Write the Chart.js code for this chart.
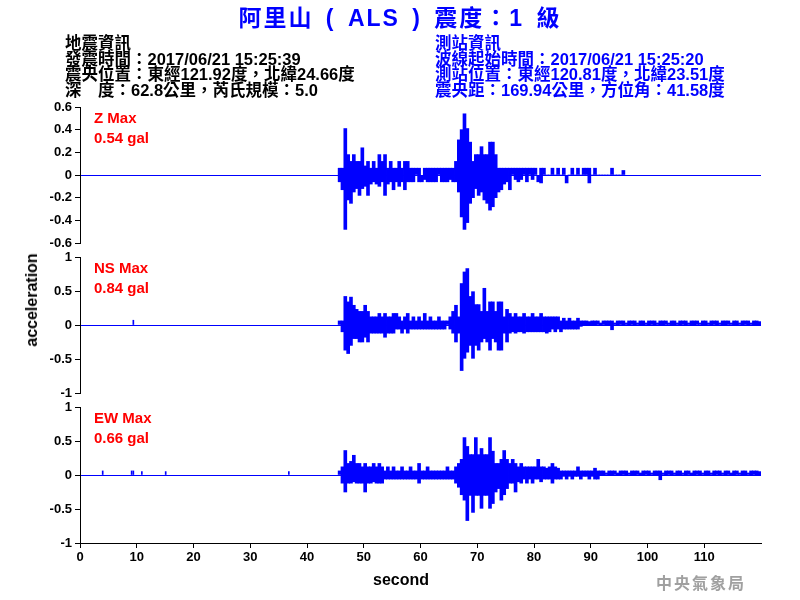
<!DOCTYPE html>
<html>
<head>
<meta charset="utf-8">
<script src="https://cdn.jsdelivr.net/npm/chart.js@4.4.1/dist/chart.umd.min.js"></script>
<style>
  body { margin: 0; background: #fff; }
  #wrap { position: relative; width: 800px; height: 600px; background: #fff; overflow: hidden; }
  canvas { position: absolute; left: 0; top: 0; }
  .txt { position: absolute; white-space: nowrap; font-family: "Liberation Sans", Arial, "Noto Sans CJK TC", sans-serif; font-weight: bold; }
  #title { left: 0; width: 800px; top: 5px; text-align: center; font-size: 23px; line-height: 26px; color: #0000ff; letter-spacing: 2px; word-spacing: 4px; }
  .info { top: 36px; font-size: 16.5px; line-height: 15.7px; }
  #infoL { left: 65px; color: #000; }
  #infoR { left: 435px; color: #0000ff; }
  .mx { left: 94px; font-size: 15px; line-height: 20px; color: #ff0000; }
  #ylab { left: 32px; top: 300px; font-size: 16px; transform: translate(-50%, -50%) rotate(-90deg); color: #000; }
  #xlab { left: 401px; top: 580px; font-size: 16px; transform: translate(-50%, -50%); color: #000; }
  #mark { left: 656px; top: 572px; font-size: 16px; line-height: 20px; color: #a0a0a0; letter-spacing: 2px; font-family: "Noto Sans CJK TC", sans-serif; }
</style>
</head>
<body>
<div id="wrap">
  <canvas id="c1" width="800" height="600"></canvas>
  <canvas id="c2" width="800" height="600"></canvas>
  <canvas id="c3" width="800" height="600"></canvas>
  <div class="txt" id="title">阿里山 ( ALS ) 震度：1 級</div>
  <div class="txt info" id="infoL">地震資訊<br>發震時間：2017/06/21 15:25:39<br>震央位置：東經121.92度，北緯24.66度<br>深　度：62.8公里，芮氏規模：5.0</div>
  <div class="txt info" id="infoR">測站資訊<br>波線起始時間：2017/06/21 15:25:20<br>測站位置：東經120.81度，北緯23.51度<br>震央距：169.94公里，方位角：41.58度</div>
  <div class="txt mx" style="top:108px">Z Max<br>0.54 gal</div>
  <div class="txt mx" style="top:258px">NS Max<br>0.84 gal</div>
  <div class="txt mx" style="top:408px">EW Max<br>0.66 gal</div>
  <div class="txt" id="ylab">acceleration</div>
  <div class="txt" id="xlab">second</div>
  <div class="txt" id="mark">中央氣象局</div>
</div>
<script>
// waveform as [min, max] per half-second bin, starting at 45.5 s
const binStart = 45.5;
const binWidth = 0.5;

const zBins = [
  [-0.06,0.06],[-0.13,0.06],[-0.48,0.41],[-0.22,0.18],[-0.25,0.12],[-0.15,0.18],[-0.12,0.12],[-0.18,0.12],[-0.12,0.24],[-0.1,0.08],
  [-0.18,0.12],[-0.08,0.06],[-0.06,0.12],[-0.08,0.06],[-0.1,0.18],[-0.06,0.12],[-0.18,0.18],[-0.08,0.06],[-0.06,0.12],[-0.13,0.06],
  [-0.06,0.06],[-0.1,0.12],[-0.06,0.06],[-0.13,0.12],[-0.06,0.12],[-0.06,0.06],[-0.06,0.06],[0,0.06],[-0.06,0.06],[-0.06,0],
  [-0.04,0.06],[-0.06,0.06],[-0.06,0.06],[-0.06,0.06],[-0.06,0.06],[0,0.06],[-0.06,0.06],[-0.06,0.06],[-0.06,0.06],[-0.04,0.06],
  [-0.06,0.06],[-0.06,0.12],[-0.15,0.31],[-0.37,0.4],[-0.48,0.54],[-0.42,0.41],[-0.25,0.29],[-0.2,0.12],[-0.12,0.18],[-0.18,0.18],
  [-0.15,0.25],[-0.22,0.18],[-0.25,0.18],[-0.31,0.29],[-0.28,0.29],[-0.2,0.18],[-0.15,0.06],[-0.13,0.06],[-0.08,0.06],[-0.06,0.06],
  [-0.13,0.06],[0,0.06],[-0.04,0.06],[-0.06,0.06],[-0.04,0.06],[0,0.06],[-0.06,0.06],[0,0.06],[-0.04,0.06],[0,0.06],
  [-0.06,0],[-0.07,0.06],[0,0.06],[0,0],[0,0],[0,0.06],[0,0],[0,0.06],[0,0],[0,0.06],
  [-0.07,0],[0,0],[0,0.06],[0,0],[0,0.06],[0,0],[0,0.06],[0,0.06],[-0.07,0.06],[0,0],
  [0,0.06],[0,0],[0,0],[0,0],[0,0],[0,0],[0,0.06],[0,0],[0,0],[0,0],
  [0,0.04]
];

const nsBins = [
  [0,0.06],[-0.1,0.06],[-0.37,0.42],[-0.42,0.34],[-0.3,0.41],[-0.2,0.29],[-0.2,0.23],[-0.25,0.2],[-0.25,0.2],[-0.18,0.29],
  [-0.25,0.2],[-0.12,0.12],[-0.12,0.12],[-0.12,0.12],[-0.12,0.17],[-0.12,0.12],[-0.18,0.17],[-0.12,0.12],[-0.12,0.12],[-0.12,0.17],
  [-0.06,0.17],[-0.06,0.12],[-0.12,0.06],[-0.06,0.12],[-0.12,0.17],[-0.06,0.06],[-0.06,0.12],[-0.06,0.06],[-0.06,0.12],[-0.06,0.06],
  [-0.06,0.17],[-0.06,0.06],[-0.06,0.12],[-0.06,0.06],[-0.06,0.06],[-0.06,0.12],[-0.06,0.06],[-0.06,0.06],[0,0.06],[-0.06,0.12],
  [-0.12,0.2],[-0.25,0.29],[-0.12,0.12],[-0.67,0.61],[-0.49,0.78],[-0.4,0.83],[-0.3,0.42],[-0.49,0.49],[-0.3,0.3],[-0.37,0.3],
  [-0.25,0.2],[-0.2,0.54],[-0.25,0.2],[-0.37,0.34],[-0.2,0.34],[-0.25,0.2],[-0.37,0.34],[-0.37,0.34],[-0.12,0.12],[-0.25,0.23],
  [-0.12,0.17],[-0.1,0.12],[-0.12,0.17],[-0.1,0.12],[-0.1,0.12],[-0.12,0.17],[-0.1,0.12],[-0.1,0.12],[-0.1,0.17],[-0.1,0.12],
  [-0.1,0.12],[-0.1,0.17],[-0.1,0.12],[-0.12,0.12],[-0.1,0.12],[-0.06,0.12],[-0.1,0.12],[-0.06,0.12],[-0.1,0.06],[-0.06,0.1],
  [-0.06,0.06],[-0.06,0.1],[-0.06,0.06],[-0.06,0.06],[-0.06,0.1],[-0.02,0.06],[-0.01,0.06],[-0.01,0.06],[-0.01,0.05],[-0.01,0.06],
  [-0.01,0.06],[0,0.06],[-0.01,0.03],[0,0.06],[-0.01,0.06],[-0.01,0.06],[-0.07,0.06],[0,0.03],[-0.01,0.06],[0,0.06],
  [-0.01,0.06],[0,0.03],[-0.01,0.06],[0,0.06],[-0.01,0.06],[0,0.03],[-0.01,0.06],[-0.01,0.06],[0,0.03],[-0.01,0.06],
  [0,0.06],[-0.01,0.06],[0,0.03],[-0.01,0.06],[-0.01,0.06],[0,0.06],[0,0.03],[-0.01,0.06],[-0.01,0.06],[0,0.03],
  [-0.01,0.06],[0,0.06],[-0.01,0.06],[0,0.03],[-0.01,0.06],[-0.01,0.06],[0,0.06],[0,0.03],[-0.01,0.06],[-0.01,0.06],
  [0,0.03],[-0.01,0.06],[0,0.06],[-0.01,0.06],[0,0.03],[-0.01,0.06],[-0.01,0.06],[0,0.06],[0,0.03],[-0.01,0.06],
  [-0.01,0.06],[0,0.03],[-0.01,0.06],[0,0.06],[-0.01,0.06],[0,0.03],[-0.01,0.06],[-0.01,0.06],[-0.01,0.05]
];

const ewBins = [
  [0,0.06],[-0.12,0.12],[-0.25,0.36],[-0.12,0.17],[-0.12,0.2],[-0.1,0.29],[-0.12,0.17],[-0.12,0.17],[-0.12,0.12],[-0.25,0.17],
  [-0.12,0.12],[-0.12,0.12],[-0.1,0.17],[-0.12,0.12],[-0.12,0.17],[-0.12,0.12],[-0.06,0.06],[-0.06,0.12],[-0.06,0.06],[-0.06,0.12],
  [-0.06,0.06],[-0.06,0.06],[-0.06,0.12],[-0.06,0.06],[-0.06,0.06],[-0.06,0.12],[-0.06,0.06],[-0.06,0.06],[-0.12,0.17],[-0.06,0.06],
  [-0.06,0.06],[-0.06,0.12],[-0.06,0.06],[-0.06,0.06],[-0.06,0.06],[-0.06,0.06],[-0.06,0.06],[-0.06,0.06],[-0.06,0.12],[-0.06,0.06],
  [-0.06,0.06],[-0.12,0.12],[-0.18,0.17],[-0.29,0.23],[-0.37,0.55],[-0.67,0.42],[-0.3,0.3],[-0.55,0.3],[-0.3,0.55],[-0.3,0.3],
  [-0.49,0.39],[-0.3,0.3],[-0.3,0.3],[-0.49,0.55],[-0.42,0.35],[-0.25,0.17],[-0.2,0.17],[-0.37,0.23],[-0.29,0.36],[-0.2,0.23],
  [-0.12,0.17],[-0.12,0.23],[-0.25,0.17],[-0.1,0.12],[-0.12,0.17],[-0.06,0.12],[-0.12,0.12],[-0.06,0.12],[-0.12,0.12],[-0.06,0.12],
  [-0.06,0.23],[-0.1,0.12],[-0.06,0.12],[-0.06,0.1],[-0.06,0.12],[-0.12,0.17],[-0.06,0.12],[-0.06,0.1],[-0.06,0.06],[-0.02,0.06],
  [-0.06,0.06],[-0.02,0.06],[-0.06,0.06],[-0.02,0.06],[-0.02,0.12],[-0.06,0.06],[-0.02,0.06],[-0.02,0.06],[-0.06,0.06],[-0.02,0.06],
  [-0.06,0.1],[-0.06,0.06],[-0.01,0.06],[-0.01,0.06],[0,0.03],[-0.01,0.06],[-0.01,0.06],[0,0.06],[-0.01,0.03],[-0.01,0.06],
  [0,0.06],[-0.01,0.06],[0,0.03],[-0.01,0.06],[-0.01,0.06],[0,0.06],[-0.01,0.03],[-0.01,0.06],[0,0.06],[-0.01,0.06],
  [0,0.03],[-0.01,0.06],[-0.01,0.06],[-0.07,0.06],[0,0.03],[-0.01,0.06],[0,0.06],[-0.01,0.06],[0,0.03],[-0.01,0.06],
  [-0.01,0.06],[0,0.03],[-0.01,0.06],[0,0.06],[-0.01,0.03],[-0.01,0.06],[0,0.06],[-0.01,0.06],[0,0.03],[-0.01,0.06],
  [-0.01,0.06],[0,0.03],[-0.01,0.06],[0,0.06],[-0.01,0.06],[0,0.03],[-0.01,0.06],[0,0.06],[-0.01,0.03],[-0.01,0.06],
  [0,0.06],[0,0.03],[-0.01,0.06],[-0.01,0.06],[0,0.03],[-0.01,0.06],[0,0.06],[-0.01,0.06],[-0.01,0.05]
];

// small spikes before the P arrival
const nsPreT = [9.4];
const nsPreV = [0.07];
const ewPreT = [4.0, 9.1, 9.4, 10.9, 15.1, 36.8];
const ewPreV = [0.06, 0.06, 0.06, 0.05, 0.05, 0.05];

const xTicksMax = 120;
const tickFont = { family: 'Liberation Sans, Arial, sans-serif', size: 13, weight: 'bold' };
const blue = '#0000ff';

function makePanel(id, bins, preT, preV, yMin, yMax, yStep, padTop, padBottom, showX) {
  const main = bins.map((b, i) => ({ x: binStart + binWidth * (i + 0.5), y: b }));
  const pre = preT.map((t, i) => ({ x: t, y: [0, preV[i]] }));
  new Chart(document.getElementById(id), {
    type: 'bar',
    data: {
      datasets: [
        { data: main, backgroundColor: blue, borderWidth: 0, barThickness: 3, grouped: false },
        { data: pre, backgroundColor: blue, borderWidth: 0, barThickness: 1, grouped: false }
      ]
    },
    options: {
      responsive: false,
      animation: false,
      layout: { padding: { top: padTop, bottom: padBottom, left: 0, right: 39 } },
      plugins: { legend: { display: false }, tooltip: { enabled: false } },
      scales: {
        x: {
          type: 'linear',
          min: 0,
          max: xTicksMax,
          offset: false,
          display: showX,
          grid: { drawOnChartArea: false, color: '#000', tickLength: 5, offset: false },
          border: { color: '#000' },
          ticks: { stepSize: 10, color: '#000', font: tickFont, padding: 2, maxRotation: 0 },
          afterBuildTicks: s => { s.ticks = s.ticks.filter(t => t.value < xTicksMax); },
          afterFit: s => { s.height = showX ? 57 : 0; }
        },
        y: {
          min: yMin,
          max: yMax,
          ticks: { stepSize: yStep, color: '#000', font: tickFont, padding: 3, autoSkip: false, callback: v => +v.toFixed(1) },
          grid: {
            color: c => (c.tick && Math.abs(c.tick.value) < 1e-9) ? blue : 'rgba(0,0,0,0)',
            tickColor: '#000',
            tickLength: 5
          },
          border: { color: '#000' },
          afterFit: s => { s.width = 80; }
        }
      }
    }
  });
}

makePanel('c1', zBins, [], [], -0.6, 0.6, 0.2, 107, 357, false);
makePanel('c2', nsBins, nsPreT, nsPreV, -1, 1, 0.5, 257, 207, false);
makePanel('c3', ewBins, ewPreT, ewPreV, -1, 1, 0.5, 407, 0, true);
</script>
</body>
</html>
